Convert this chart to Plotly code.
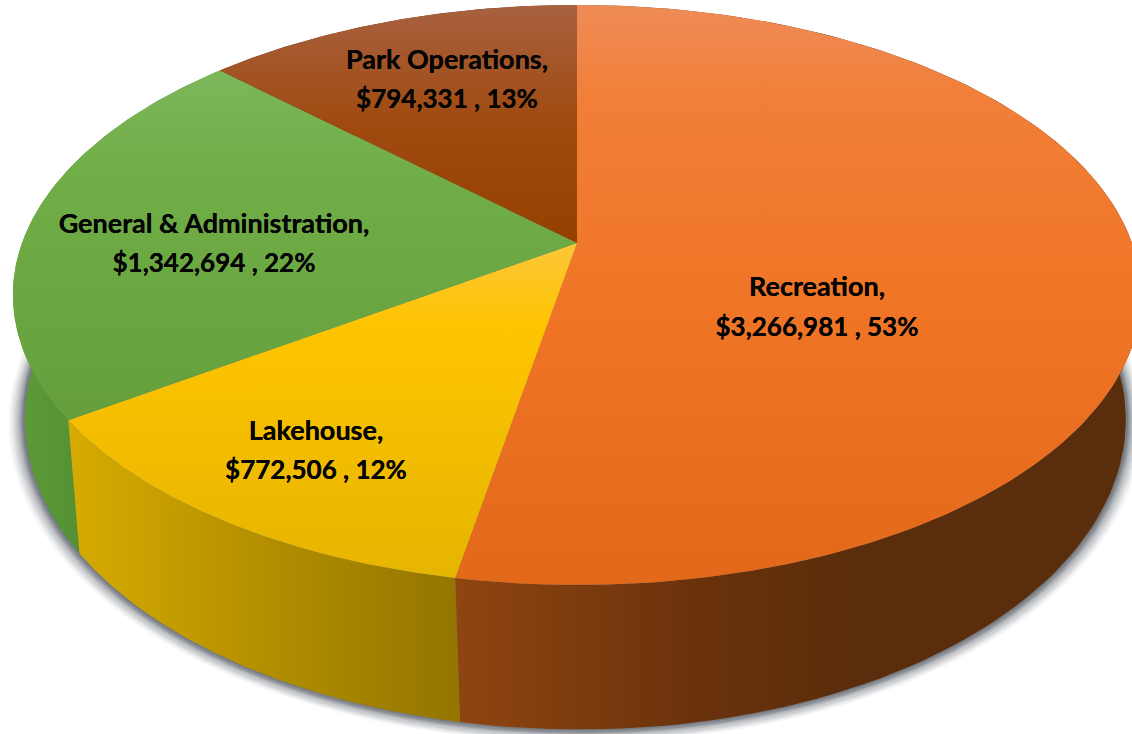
import numpy as np
import plotly.graph_objects as go

categories = ["Recreation", "Lakehouse", "General & Administration", "Park Operations"]
values = [3266981, 772506, 1342694, 794331]
percent_labels = [53, 12, 22, 13]

W, H = 1132, 734
CX, CY = 577, 243
A, B, K = 555, 280.7, 0.179
BOT_CX, BOT_AL, BOT_AR, BOT_Y0, BOT_B = 580, 546, 537, 364, 300

FACE = [
    (5, 585, [[0, "#ef8b57"], [0.16, "#f17f38"], [0.5, "#f17526"], [1, "#e2681a"]]),
    (243, 578, [[0, "#fdc639"], [0.25, "#fec400"], [1, "#e6b500"]]),
    (72, 420, [[0, "#7cb65a"], [0.3, "#70ae47"], [1, "#649f3c"]]),
    (5, 243, [[0, "#a8613f"], [0.5, "#a04a10"], [1, "#953f00"]]),
]
WALL = [
    (457, 860, [[0, "#8f4510"], [0.6, "#6a320b"], [1, "#5a2d0c"]]),
    (70, 459, [[0, "#d6ab00"], [0.5, "#b38f00"], [1, "#937500"]]),
    (18, 90, [[0, "#5b9b36"], [1, "#548f33"]]),
    (200, 300, [[0, "#5a2d0c"], [1, "#5a2d0c"]]),
]
LABEL_POS = [(817, 289, 329), (316, 433, 472), (214, 226, 265), (447, 62, 101)]
SHADOW = "0 0 0.5px #000"
NAME_FONT = dict(family="Lato", size=27, color="#050505", weight="bold", shadow=SHADOW)
VALUE_FONT = dict(family="Lato", size=26, color="#050505", weight="bold", shadow=SHADOW)
SHADOW_LAYERS = [(0.030, 2, 0.04), (0.026, 2, 0.06), (0.022, 2, 0.08), (0.018, 2, 0.10),
                 (0.014, 1, 0.13), (0.010, 1, 0.16), (0.007, 1, 0.20), (0.004, 0, 0.25)]


def top_rim(t):
    u, v = np.sin(t), np.cos(t)
    d = 1 + K * v
    return CX + A * u / d, CY - B * v / d


def bot_rim(t, grow=0.0, dy=0.0):
    u, v = np.sin(t), np.cos(t)
    d = 1 + K * v
    a = np.where(u < 0, BOT_AL, BOT_AR)
    return BOT_CX + (1 + grow) * a * u / d, BOT_Y0 + dy - BOT_B * (1 + grow) * v / d


frac = np.array(values, dtype=float) / sum(values)
edges = np.concatenate([[0], np.cumsum(frac)]) * 2 * np.pi

fig = go.Figure()

# soft shadow below the drum
full = np.linspace(0, 2 * np.pi, 361)
for grow, dy, alpha in SHADOW_LAYERS:
    x, y = bot_rim(full, grow, dy)
    fig.add_trace(go.Scatter(x=x, y=y, mode="lines", line=dict(width=0), fill="toself",
                             fillcolor=f"rgba(55,62,72,{alpha})", hoverinfo="skip", showlegend=False))

# side walls
order = [3, 2, 1, 0]
for i in order:
    t = np.linspace(edges[i], edges[i + 1], 120)
    xt, yt = top_rim(t)
    xb, yb = bot_rim(t)
    x0, x1, cs = WALL[i]
    fig.add_trace(go.Scatter(
        x=np.concatenate([xt, xb[::-1]]), y=np.concatenate([yt, yb[::-1]]),
        mode="lines", line=dict(width=0), fill="toself",
        fillgradient=dict(type="horizontal", colorscale=cs, start=x0, stop=x1),
        hoverinfo="skip", showlegend=False))

# top faces
for i in range(4):
    t = np.linspace(edges[i], edges[i + 1], 240)
    xt, yt = top_rim(t)
    y0, y1, cs = FACE[i]
    fig.add_trace(go.Scatter(
        x=np.concatenate([[CX], xt, [CX]]), y=np.concatenate([[CY], yt, [CY]]),
        mode="lines", line=dict(width=0), fill="toself",
        fillgradient=dict(type="vertical", colorscale=cs, start=y0, stop=y1),
        name=categories[i], hoverinfo="name", showlegend=False))

# labels
for name, val, pct, (lx, ly1, ly2) in zip(categories, values, percent_labels, LABEL_POS):
    fig.add_trace(go.Scatter(x=[lx], y=[ly1], mode="text", text=[f"{name},"],
                             textposition="middle center", textfont=NAME_FONT,
                             hoverinfo="skip", showlegend=False))
    fig.add_trace(go.Scatter(x=[lx], y=[ly2], mode="text", text=[f"${val:,} , {pct}%"],
                             textposition="middle center", textfont=VALUE_FONT,
                             hoverinfo="skip", showlegend=False))

fig.update_layout(
    width=W, height=H, margin=dict(l=0, r=0, t=0, b=0),
    paper_bgcolor="white", plot_bgcolor="white", showlegend=False,
    xaxis=dict(range=[0, W], visible=False, fixedrange=True),
    yaxis=dict(range=[H, 0], visible=False, fixedrange=True),
)
fig.write_html("out.html", config=dict(displayModeBar=False),
               post_script="document.body.style.margin='0';document.body.style.overflow='hidden';")
